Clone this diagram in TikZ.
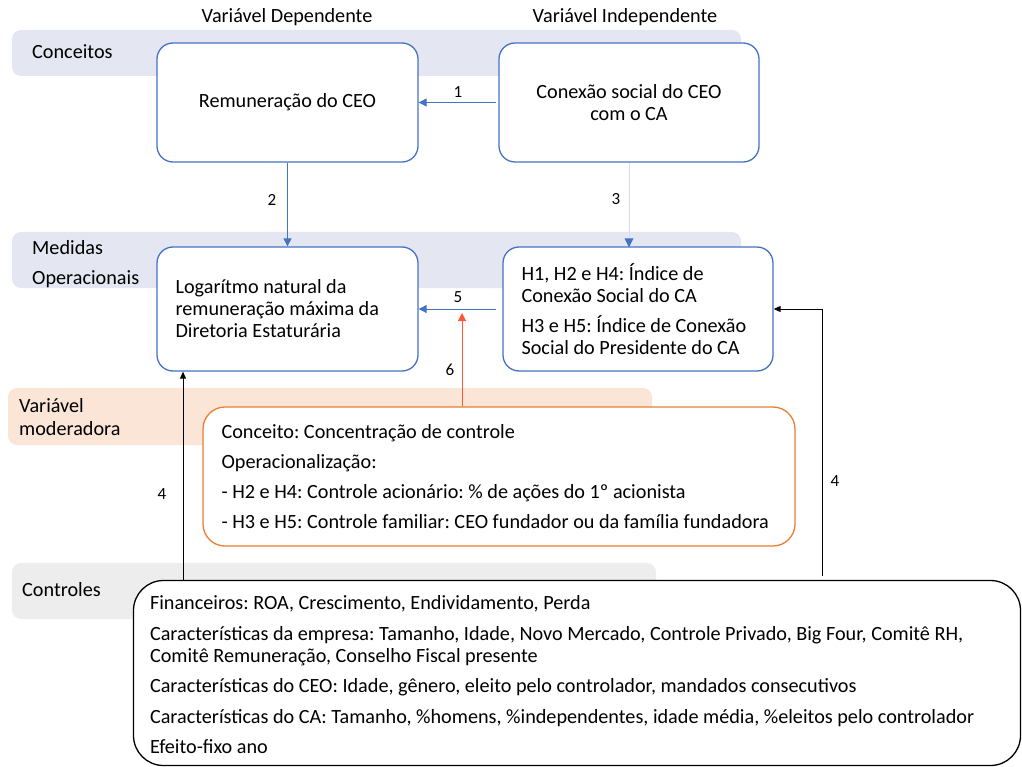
\documentclass[tikz,border=0pt]{standalone}
\usepackage{fontspec}
\setmainfont{Carlito}
\usetikzlibrary{arrows.meta,positioning}
\definecolor{azul}{HTML}{4472C4}
\definecolor{laranja}{HTML}{ED7D31}
\definecolor{verm}{HTML}{FF5733}
\definecolor{lavanda}{HTML}{E4E6F1}
\definecolor{pessego}{HTML}{FBE5D6}
\definecolor{cinza}{HTML}{EDEDED}
\definecolor{claro}{HTML}{D6DDEE}
\frenchspacing

\begin{document}
\begin{tikzpicture}[x=1pt,y=-1pt, every node/.style={font=\fontsize{20.2}{22}\selectfont,inner sep=0pt}, band/.style={rounded corners=9}, blbox/.style={draw=azul,line width=1.3,rounded corners=16,fill=white,minimum width=261,minimum height=119}, txt/.style={anchor=west,align=left}, arrB/.style={-{Triangle[length=8,width=8]},draw=azul,line width=0.9}, arrK/.style={-{Triangle[length=7,width=6]},draw=black,line width=0.9}, num/.style={font=\fontsize{17}{20}\selectfont}]
\useasboundingbox (0,0) rectangle (1022,767);
% faixas
\fill[band,lavanda] (12,30) rectangle (741,76);
\fill[band,lavanda] (12,232) rectangle (741,288);
\fill[band,pessego] (8,388) rectangle (652,445);
\fill[band,cinza] (12,563) rectangle (656,619);
\node[anchor=west] (lconc) at (32,52) {Conceitos};
\node[anchor=west] (lmed) at (32,248) {Medidas};
\node[anchor=west] (lop) at (32,279) {Operacionais};
\node[anchor=west] (lvar) at (19,406) {Variável};
\node[anchor=west] (lmod) at (19,429) {moderadora};
\node[anchor=west] (lctrl) at (22,590) {Controles};
\node (dep) at (287,17) {Variável Dependente};
\node (indep) at (625,17) {Variável Independente};
% caixas
\node[blbox] (remun) at (287.5,102.5) {Remuneração do CEO};
\node[blbox,minimum width=260,align=center] (conexao) at (629,102.5) {Conexão social do CEO\\com o CA};
\node[blbox,minimum height=124] (logn) at (287.5,309) {};
\node[txt] (tlogn) at ([xshift=19]logn.west) {Logarítmo natural da\\remuneração máxima da\\Diretoria Estaturária};
\node[blbox,minimum width=270,minimum height=124] (indice) at (638,309) {};
\node[txt] (tindice) at ([xshift=19]indice.west) {H1, H2 e H4: Índice de\\Conexão Social do CA\\[8pt]H3 e H5: Índice de Conexão\\Social do Presidente do CA};
\node[draw=laranja,line width=1.3,rounded corners=22,fill=white,minimum width=592,minimum height=139] (moder) at (499,476.5) {};
\node[txt] (tmoder) at ([xshift=19]moder.west) {Conceito: Concentração de controle\\[8pt]Operacionalização:\\[8pt]- H2 e H4: Controle acionário: \% de ações do 1º acionista\\[8pt]- H3 e H5: Controle familiar: CEO fundador ou da família fundadora};
\node[draw=black,line width=1.3,rounded corners=30,fill=white,minimum width=887,minimum height=185] (ctrl) at (577,673) {};
\node[txt] (tctrl) at ([xshift=17,yshift=-1.5]ctrl.west) {Financeiros: ROA, Crescimento, Endividamento, Perda\\[8.5pt]Características da empresa: Tamanho, Idade, Novo Mercado, Controle Privado, Big Four, Comitê RH,\\Comitê Remuneração, Conselho Fiscal presente\\[8.5pt]Características do CEO: Idade, gênero, eleito pelo controlador, mandados consecutivos\\[8.5pt]Características do CA: Tamanho, \%homens, \%independentes, idade média, \%eleitos pelo controlador\\[8pt]Efeito-fixo ano};
% conectores
\coordinate (c4l) at (183,580);
\coordinate (c4r) at (822,576);
\coordinate (c6) at (462,313);
\draw[arrB,shorten <=2] (conexao.west) -- (remun.east);
\draw[arrB] (remun.south) -- (logn.north);
\draw[-{Triangle[length=8,width=8]},draw=claro,line width=0.9,color=claro] (conexao.south) -- (indice.north -| conexao.south);
\fill[azul] ([yshift=-1]indice.north -| conexao.south) -- ++(-4.5,-9) -- ++(9,0) -- cycle;
\draw[arrB,shorten <=6] (indice.west) -- (logn.east);
\draw[-{Triangle[length=8,width=8]},draw=verm,line width=1] (moder.north -| c6) -- (c6);
\draw[arrK] (c4l) -- (c4l |- logn.south);
\draw[arrK] (c4r) |- (indice.east);
% rotulos
\node[num] (n1) at (458,92) {1};
\node[num] (n2) at (272,200) {2};
\node[num] (n3) at (616,199) {3};
\node[num] (n5) at (458,297) {5};
\node[num] (n6) at (450,370) {6};
\node[num] (n4a) at (162,494) {4};
\node[num] (n4b) at (835,481) {4};
\end{tikzpicture}
\end{document}
